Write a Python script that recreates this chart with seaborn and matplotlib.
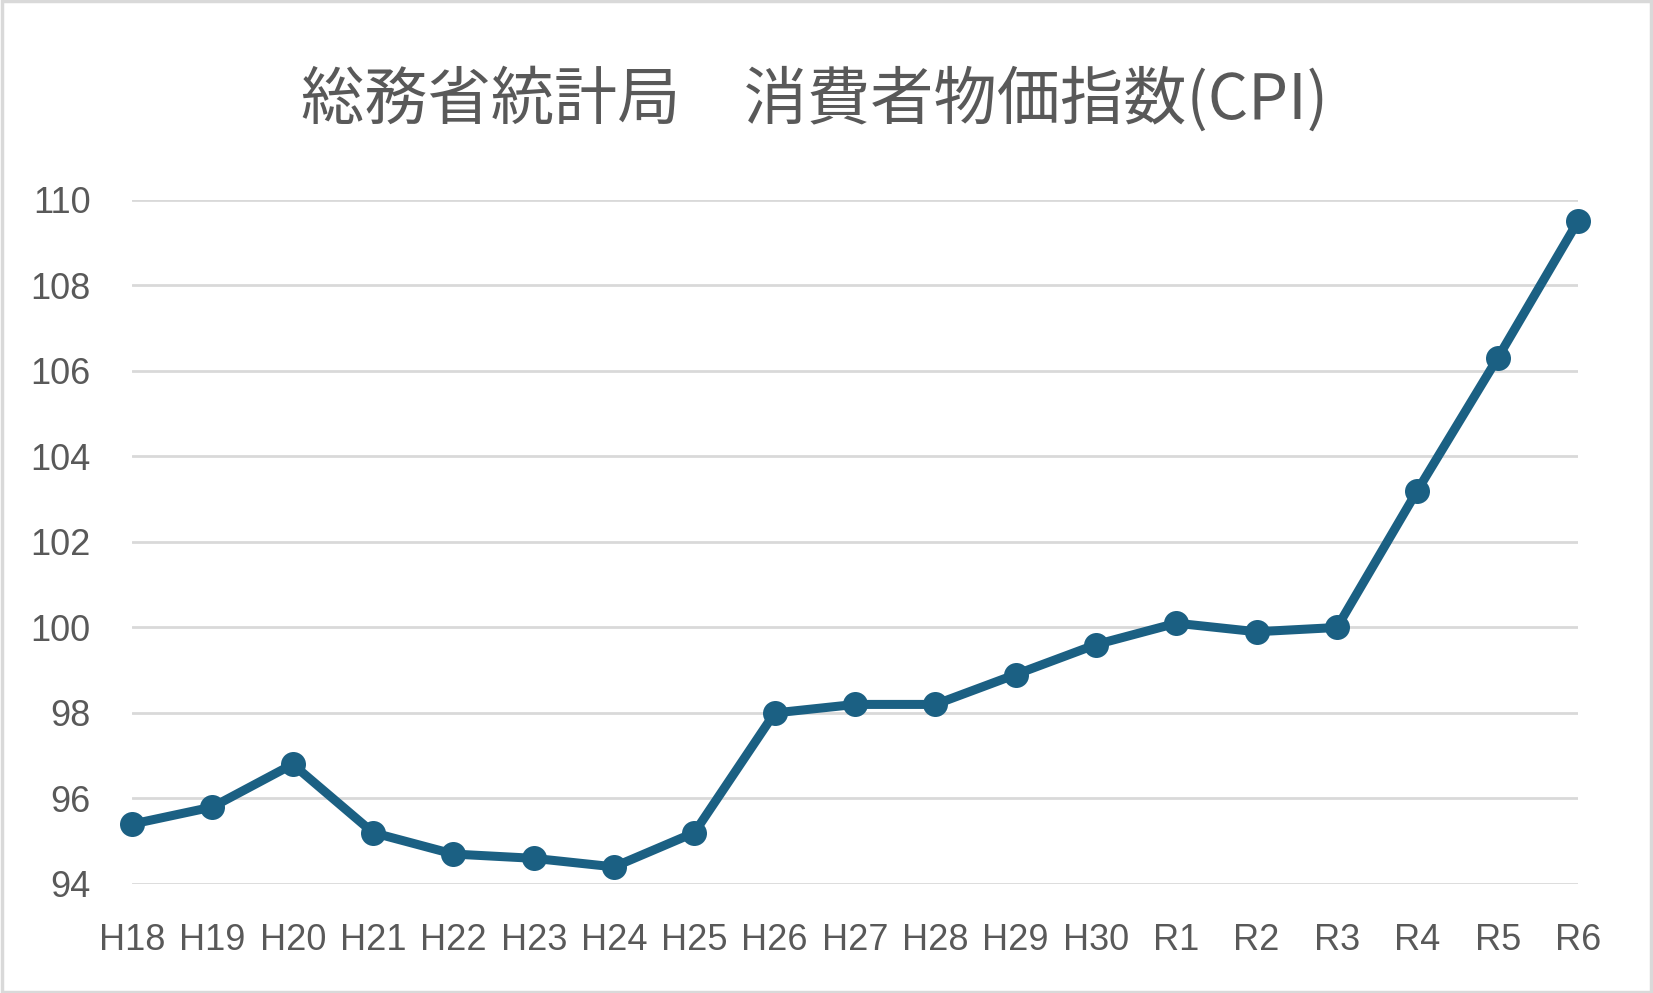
import pandas as pd
import matplotlib.pyplot as plt
import seaborn as sns
from matplotlib.patches import Rectangle

# 年度ラベルと CPI の値
years = ["H18", "H19", "H20", "H21", "H22", "H23", "H24", "H25", "H26", "H27",
         "H28", "H29", "H30", "R1", "R2", "R3", "R4", "R5", "R6"]
cpi = [95.4, 95.8, 96.8, 95.2, 94.7, 94.6, 94.4, 95.2, 98.0, 98.2,
       98.2, 98.9, 99.6, 100.1, 99.9, 100.0, 103.2, 106.3, 109.5]
y_ticks = [94, 96, 98, 100, 102, 104, 106, 108, 110]

title = "総務省統計局　消費者物価指数(CPI)"

line_color = "#1B6083"
text_color = "#595959"
grid_color = "#D9D9D9"

sns.set_theme(style="white")
plt.rcParams["font.family"] = ["Noto Sans CJK JP", "DejaVu Sans"]

df = pd.DataFrame({"year": years, "cpi": cpi})
df["pos"] = range(len(df))

fig = plt.figure(figsize=(16.53, 9.93), dpi=100)
ax = fig.add_axes([0.0799, 0.1098, 0.8747, 0.6888])

for t in y_ticks:
    ax.axhline(t, color=grid_color, linewidth=2.0, zorder=0)

sns.lineplot(data=df, x="pos", y="cpi", ax=ax, color=line_color,
             linewidth=6.5, marker="o", markersize=18,
             markeredgewidth=0, clip_on=False, zorder=3)

ax.set_xlim(0, len(years) - 1)
ax.set_ylim(94, 110)
ax.set_xticks(df["pos"])
ax.set_xticklabels(years)
ax.set_yticks(y_ticks)
ax.set_xlabel("")
ax.set_ylabel("")
ax.tick_params(axis="both", length=0, labelsize=26, labelcolor=text_color)
ax.tick_params(axis="x", pad=28)
ax.tick_params(axis="y", pad=30)
for lab in ax.get_xticklabels() + ax.get_yticklabels():
    lab.set_family(["Liberation Sans", "DejaVu Sans"])
sns.despine(ax=ax, left=True, bottom=True)
ax.set_facecolor("white")

fig.text(0.493, 0.899, title, ha="center", va="center",
         fontsize=45.5, color=text_color)

fig.patches.append(Rectangle((0.001, 0.001), 0.998, 0.998, transform=fig.transFigure,
                             fill=False, edgecolor=grid_color, linewidth=2.5))

fig.savefig("out.png", dpi=100, facecolor="white")
